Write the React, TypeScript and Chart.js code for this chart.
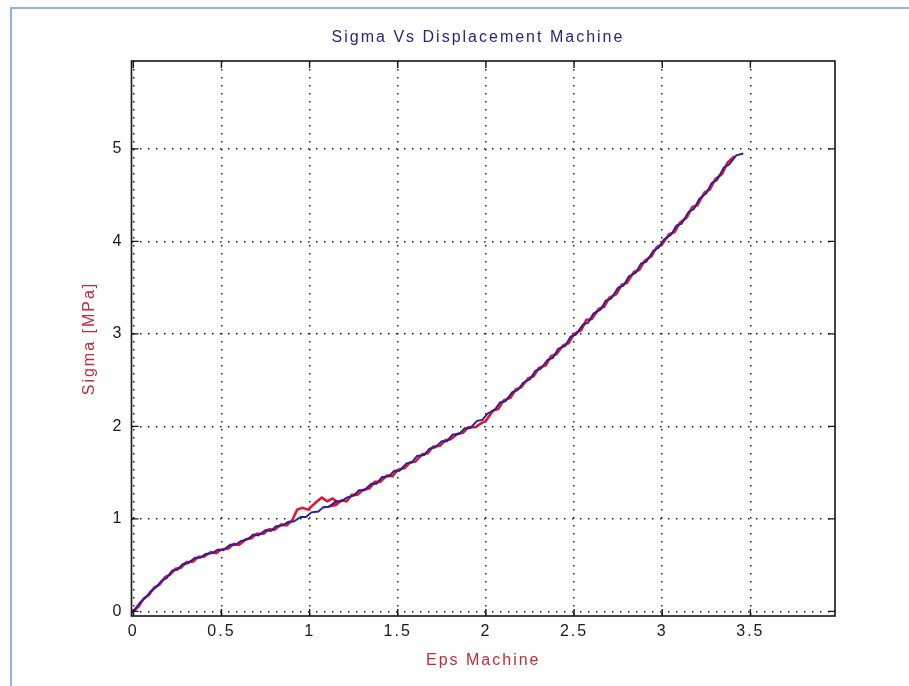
import React, { useEffect, useRef } from 'react';
import { Chart, registerables } from 'chart.js';

Chart.register(...registerables);

const TITLE = 'Sigma Vs Displacement Machine';
const X_LABEL = 'Eps Machine';
const Y_LABEL = 'Sigma [MPa]';
const X_TICKS = [0, 0.5, 1, 1.5, 2, 2.5, 3, 3.5];
const Y_TICKS = [0, 1, 2, 3, 4, 5];
const X_RANGE = [-0.01, 3.98];
const Y_RANGE = [-0.05, 5.95];

const redX = [
  0.0, 0.03, 0.06, 0.09, 0.12, 0.15, 0.18, 0.21, 0.24, 0.27, 0.3, 0.34, 0.37, 0.4, 0.44, 0.47, 0.5, 0.54, 0.57, 0.6,
  0.64, 0.67, 0.7, 0.74, 0.77, 0.8, 0.84, 0.87, 0.9, 0.93, 0.96, 0.99, 1.02, 1.05, 1.07, 1.1, 1.13, 1.16, 1.12, 1.15,
  1.18, 1.21, 1.24, 1.27, 1.3, 1.34, 1.37, 1.4, 1.44, 1.47, 1.5, 1.54, 1.57, 1.6, 1.64, 1.67, 1.7, 1.74, 1.77, 1.8,
  1.84, 1.87, 1.9, 1.94, 1.97, 2.0, 2.04, 2.07, 2.1, 2.14, 2.17, 2.2, 2.24, 2.27, 2.3, 2.34, 2.37, 2.4, 2.44, 2.47,
  2.5, 2.54, 2.57, 2.6, 2.64, 2.67, 2.7, 2.74, 2.77, 2.8, 2.84, 2.87, 2.9, 2.94, 2.97, 3.0, 3.04, 3.07, 3.1, 3.14,
  3.17, 3.2, 3.24, 3.27, 3.3, 3.34, 3.37, 3.41,
];
const redY = [
  0.0, 0.05, 0.14, 0.18, 0.26, 0.29, 0.37, 0.4, 0.46, 0.47, 0.53, 0.54, 0.59, 0.59, 0.64, 0.63, 0.67, 0.68, 0.73, 0.72,
  0.78, 0.79, 0.84, 0.84, 0.89, 0.88, 0.94, 0.93, 0.98, 1.1, 1.12, 1.1, 1.15, 1.2, 1.23, 1.19, 1.22, 1.18, 1.14, 1.15,
  1.2, 1.19, 1.26, 1.26, 1.31, 1.33, 1.4, 1.4, 1.47, 1.46, 1.53, 1.55, 1.61, 1.62, 1.7, 1.71, 1.78, 1.79, 1.85, 1.86,
  1.92, 1.93, 1.99, 1.99, 2.03, 2.06, 2.17, 2.19, 2.28, 2.31, 2.4, 2.42, 2.52, 2.54, 2.63, 2.66, 2.76, 2.78, 2.88, 2.9,
  3.0, 3.04, 3.15, 3.16, 3.27, 3.29, 3.39, 3.43, 3.53, 3.55, 3.67, 3.69, 3.79, 3.84, 3.94, 3.97, 4.08, 4.1, 4.2, 4.26,
  4.37, 4.39, 4.53, 4.56, 4.67, 4.73, 4.85, 4.92,
];

const blueX = [
  0.0, 0.04, 0.07, 0.1, 0.13, 0.16, 0.19, 0.22, 0.25, 0.28, 0.31, 0.35, 0.38, 0.41, 0.45, 0.48, 0.51, 0.55, 0.58, 0.61,
  0.65, 0.68, 0.71, 0.75, 0.78, 0.81, 0.85, 0.88, 0.91, 0.95, 0.98, 1.01, 1.05, 1.08, 1.11, 1.15, 1.18, 1.21, 1.25, 1.28,
  1.31, 1.35, 1.38, 1.41, 1.45, 1.48, 1.51, 1.55, 1.58, 1.61, 1.65, 1.68, 1.71, 1.75, 1.78, 1.81, 1.85, 1.88, 1.91, 1.95,
  1.98, 2.01, 2.05, 2.08, 2.11, 2.15, 2.18, 2.21, 2.25, 2.28, 2.31, 2.35, 2.38, 2.41, 2.45, 2.48, 2.51, 2.55, 2.58, 2.61,
  2.65, 2.68, 2.71, 2.75, 2.78, 2.81, 2.85, 2.88, 2.91, 2.95, 2.98, 3.01, 3.05, 3.08, 3.11, 3.15, 3.18, 3.21, 3.25, 3.28,
  3.31, 3.35, 3.38, 3.42, 3.46,
];
const blueY = [
  0.0, 0.1, 0.15, 0.22, 0.26, 0.33, 0.36, 0.44, 0.45, 0.51, 0.52, 0.58, 0.58, 0.62, 0.63, 0.67, 0.66, 0.72, 0.72, 0.76,
  0.78, 0.83, 0.82, 0.88, 0.87, 0.92, 0.93, 0.97, 0.97, 1.02, 1.02, 1.07, 1.08, 1.13, 1.13, 1.19, 1.19, 1.23, 1.25, 1.31,
  1.31, 1.38, 1.38, 1.45, 1.46, 1.52, 1.52, 1.6, 1.61, 1.68, 1.69, 1.76, 1.77, 1.84, 1.84, 1.91, 1.92, 1.98, 1.98, 2.06,
  2.07, 2.14, 2.18, 2.26, 2.27, 2.37, 2.39, 2.47, 2.51, 2.6, 2.62, 2.72, 2.74, 2.84, 2.87, 2.97, 2.99, 3.1, 3.12, 3.22,
  3.26, 3.36, 3.38, 3.5, 3.52, 3.62, 3.66, 3.76, 3.78, 3.9, 3.93, 4.02, 4.07, 4.17, 4.19, 4.32, 4.35, 4.46, 4.52, 4.63,
  4.66, 4.8, 4.83, 4.93, 4.95,
];

const FONT = '"Liberation Sans", Arial, Helvetica, sans-serif';
const TEXT_COLOR = '#1a1a1a';
const TITLE_COLOR = '#26267e';
const LABEL_COLOR = '#c42a3a';
const RED = '#e3152d';
const BLUE = '#22229e';

export default function App() {
  const ref = useRef<HTMLCanvasElement>(null);

  useEffect(() => {
    const canvas = ref.current;
    if (!canvas) return;

    const spacing = {
      id: 'spacing',
      beforeLayout(c: any) {
        c.ctx.letterSpacing = '2px';
      },
      beforeDraw(c: any) {
        c.ctx.letterSpacing = '2px';
      },
    };

    const frame = {
      id: 'frame',
      afterDraw(c: any) {
        const { ctx, chartArea: a, scales } = c;
        ctx.save();
        ctx.setLineDash([]);
        ctx.strokeStyle = '#151515';
        ctx.lineWidth = 1.6;
        ctx.strokeRect(a.left, a.top, a.right - a.left, a.bottom - a.top);
        const tl = 7;
        ctx.lineWidth = 1.4;
        ctx.beginPath();
        X_TICKS.forEach((v) => {
          const px = scales.x.getPixelForValue(v);
          ctx.moveTo(px, a.bottom);
          ctx.lineTo(px, a.bottom - tl);
          ctx.moveTo(px, a.top);
          ctx.lineTo(px, a.top + tl);
        });
        Y_TICKS.forEach((v) => {
          const py = scales.y.getPixelForValue(v);
          ctx.moveTo(a.left, py);
          ctx.lineTo(a.left + tl, py);
          ctx.moveTo(a.right, py);
          ctx.lineTo(a.right - tl, py);
        });
        ctx.stroke();
        ctx.restore();
      },
    };

    const textFont = { family: FONT, size: 16, weight: 'normal' as const };

    const chart = new Chart(canvas, {
      type: 'scatter',
      data: {
        datasets: [
          {
            label: 'blue',
            data: blueX.map((x, i) => ({ x, y: blueY[i] })),
            showLine: true,
            borderColor: BLUE,
            backgroundColor: BLUE,
            borderWidth: 1.9,
            pointRadius: 0,
            tension: 0,
            order: 0,
          },
          {
            label: 'red',
            data: redX.map((x, i) => ({ x, y: redY[i] })),
            showLine: true,
            borderColor: RED,
            backgroundColor: RED,
            borderWidth: 2.6,
            pointRadius: 0,
            tension: 0,
            order: 1,
          },
        ],
      },
      options: {
        responsive: false,
        animation: false,
        devicePixelRatio: 1,
        layout: { padding: { left: 47, right: 0, top: 0, bottom: 0 } },
        plugins: {
          legend: { display: false },
          tooltip: { enabled: false },
          title: {
            display: true,
            text: TITLE,
            color: TITLE_COLOR,
            font: textFont,
            padding: { top: 28, bottom: 13.8 },
          },
        },
        scales: {
          x: {
            type: 'linear',
            position: 'bottom',
            min: X_RANGE[0],
            max: X_RANGE[1],
            afterBuildTicks: (s: any) => {
              s.ticks = X_TICKS.map((v) => ({ value: v }));
            },
            afterFit: (s: any) => {
              s.height = 70;
            },
            grid: { color: '#1c1c1c', lineWidth: 1.5, drawTicks: false },
            border: { display: false, dash: [1.5, 6.5] },
            ticks: {
              color: TEXT_COLOR,
              font: textFont,
              padding: 6,
              maxRotation: 0,
              autoSkip: false,
              callback: (v: any) => String(v),
            },
            title: {
              display: true,
              text: X_LABEL,
              color: LABEL_COLOR,
              font: textFont,
              padding: { top: 0, bottom: 15.4 },
            },
          },
          y: {
            type: 'linear',
            position: 'left',
            min: Y_RANGE[0],
            max: Y_RANGE[1],
            afterBuildTicks: (s: any) => {
              s.ticks = Y_TICKS.map((v) => ({ value: v }));
            },
            afterFit: (s: any) => {
              s.width = 84.5;
            },
            grid: { color: '#1c1c1c', lineWidth: 1.5, drawTicks: false },
            border: { display: false, dash: [1.5, 6.5] },
            ticks: {
              color: TEXT_COLOR,
              font: textFont,
              padding: 8,
              autoSkip: false,
              callback: (v: any) => String(v),
            },
            title: {
              display: true,
              text: Y_LABEL,
              color: LABEL_COLOR,
              font: textFont,
              padding: { top: 33.4, bottom: 0 },
            },
          },
          yRight: {
            type: 'linear',
            position: 'right',
            min: Y_RANGE[0],
            max: Y_RANGE[1],
            afterFit: (s: any) => {
              s.width = 74;
            },
            grid: { display: false, drawTicks: false },
            border: { display: false },
            ticks: { display: false },
          },
        },
      },
      plugins: [spacing, frame],
    } as any);

    return () => chart.destroy();
  }, []);

  return (
    <div style={{ position: 'fixed', left: 0, top: 0, width: 909, height: 686, background: '#fff' }}>
      <canvas ref={ref} width={909} height={686} style={{ display: 'block' }} />
      <div
        style={{
          position: 'absolute',
          left: 10,
          top: 7,
          right: 0,
          bottom: 0,
          borderTop: '2px solid #8db4e2',
          borderLeft: '2px solid #8db4e2',
          pointerEvents: 'none',
        }}
      />
    </div>
  );
}
